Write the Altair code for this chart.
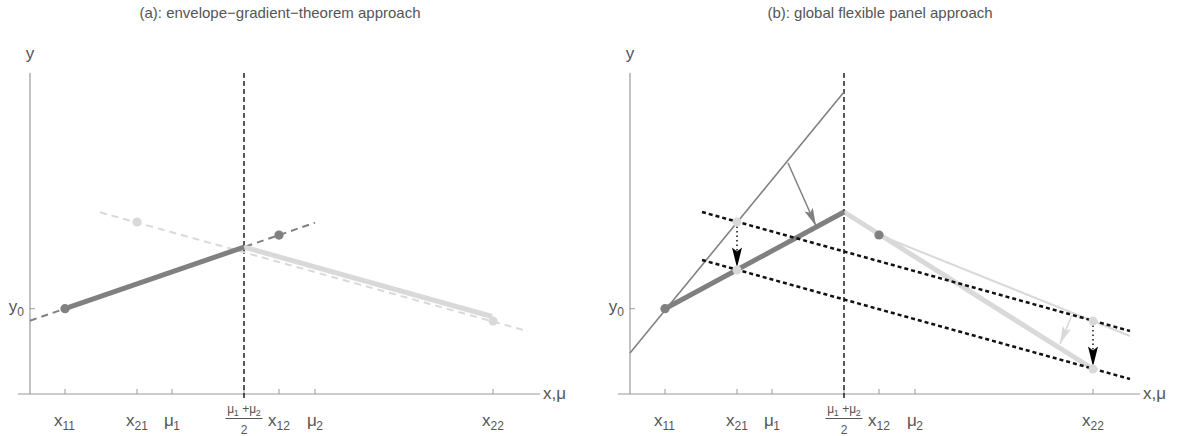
import math
import altair as alt
import pandas as pd

# ---------------- shared axis description ----------------
tick_pos = [0.35, 1.07, 1.42, 2.49, 2.85, 4.63]
tick_base = ["x", "x", "μ", "x", "μ", "x"]
tick_sub = ["11", "21", "1", "12", "2", "22"]
mid_pos = 2.14          # (mu1 + mu2) / 2
y0 = 0.853
x_axis_span = [-0.12, 5.10]
y_axis_top = 3.21

# ---------------- panel (a): envelope-gradient-theorem ----------------
a_dark_ext_x, a_dark_ext_y = [0.0, 2.85], [0.733, 1.713]
a_dark_x, a_dark_y = [0.35, 2.14], [0.853, 1.469]
a_light_ext_x, a_light_ext_y = [0.70, 4.98], [1.817, 0.627]
a_light_x, a_light_y = [2.14, 4.62], [1.469, 0.775]
a_dark_dots_x, a_dark_dots_y = [0.35, 2.49], [0.853, 1.589]
a_light_dots_x, a_light_dots_y = [1.07, 4.63], [1.72, 0.73]

# ---------------- panel (b): global flexible panel ----------------
b_gray_x, b_gray_y = [0.0, 2.14], [0.41, 3.02]
b_dark_x, b_dark_y = [0.35, 2.14], [0.853, 1.82]
b_light_x, b_light_y = [2.14, 4.63], [1.82, 0.25]
b_light_thin_x, b_light_thin_y = [2.49, 5.00], [1.59, 0.58]
b_upper_x, b_upper_y = [0.72, 5.00], [1.82, 0.63]
b_lower_x, b_lower_y = [0.72, 5.00], [1.34, 0.15]
b_dark_dots_x, b_dark_dots_y = [0.35, 2.49], [0.853, 1.59]
b_light_dots_x = [1.07, 1.07, 4.63, 4.63]
b_light_dots_y = [1.72, 1.24, 0.73, 0.25]
b_gray_arrow_x, b_gray_arrow_y = [1.58, 1.86], [2.31, 1.68]
b_light_arrow_x, b_light_arrow_y = [4.42, 4.30], [0.79, 0.50]
b_drop_from_x, b_drop_from_y = [1.07, 4.63], [1.72, 0.73]
b_drop_to_y = [1.265, 0.275]

titles = ["(a): envelope−gradient−theorem approach", "(b): global flexible panel approach"]

# ---------------- styling ----------------
DARK = "#808080"
LIGHT = "#d9d9d9"
AXIS = "#9a9a9a"
TEXT = "#555555"
FONT = "Liberation Sans"
H = 436
Y_DOM = [-0.42, 3.94]
BASE_FS, SUB_FS = 17, 12
# arrowhead drawn pointing down, tip at the symbol origin
HEAD = "M0,0 L-0.5,-2 L0,-1.6 L0.5,-2 Z"

# approximate advance widths (em) of the sans font, for laying out subscripts
ADV = {"x": 0.5, "y": 0.5, "μ": 0.54, "+": 0.584, " ": 0.278, ",": 0.278}


def text_width(s, fs):
    return sum(ADV.get(c, 0.556) for c in s) * fs


def seg(xs, ys):
    return pd.DataFrame({"x": [xs[0]], "y": [ys[0]], "x2": [xs[1]], "y2": [ys[1]]})


def pieces_rows(x, pieces, align="center", shift=0.0):
    """Lay out (text, fontsize, drop) pieces left to right around data x."""
    total = sum(text_width(t, fs) for t, fs, _ in pieces)
    start = {"center": -total / 2, "right": -total, "left": 0.0}[align] + shift
    rows = []
    for t, fs, drop in pieces:
        if t.strip():
            rows.append({"x": x, "t": t, "fs": fs, "off": start, "drop": drop})
        start += text_width(t, fs)
    return rows


def build_panel(width, x_dom, title, layers_fn):
    xs = alt.Scale(domain=x_dom, nice=False, zero=False)
    ys = alt.Scale(domain=Y_DOM, nice=False, zero=False)
    px_x = width / (x_dom[1] - x_dom[0])
    px_y = H / (Y_DOM[1] - Y_DOM[0])

    def X(f="x"):
        return alt.X(f"{f}:Q", scale=xs, axis=None)

    def Y(f="y"):
        return alt.Y(f"{f}:Q", scale=ys, axis=None)

    def rule(df, color, w, dash=None, cap="butt"):
        kw = dict(color=color, strokeWidth=w, strokeCap=cap)
        if dash:
            kw["strokeDash"] = dash
        return alt.Chart(df).mark_rule(**kw).encode(x=X(), y=Y(), x2="x2:Q", y2="y2:Q")

    def dots(xv, yv, color, size=85):
        df = pd.DataFrame({"x": xv, "y": yv})
        return alt.Chart(df).mark_circle(color=color, size=size, opacity=1).encode(x=X(), y=Y())

    def head(x_from, y_from, x_to, y_to, color, length):
        angs = []
        for xa, ya, xb, yb in zip(x_from, y_from, x_to, y_to):
            sx = (xb - xa) * px_x
            sy = -(yb - ya) * px_y
            angs.append(math.degrees(math.atan2(-sx, sy)) % 360)
        df = pd.DataFrame({"x": x_to, "y": y_to, "a": angs})
        return alt.Chart(df).mark_point(
            shape=HEAD, filled=True, color=color, opacity=1, size=length * length, strokeWidth=0
        ).encode(x=X(), y=Y(), angle=alt.Angle("a:Q", scale=None))

    def rich(rows, y_px=None, y_val=None):
        # one text mark per piece so that each gets its own offset and size
        marks = []
        for r in rows:
            df = pd.DataFrame({"x": [r["x"]], "t": [r["t"]], "y": [y_val if y_val is not None else 0.0]})
            m = alt.Chart(df).mark_text(font=FONT, color=TEXT, align="left", baseline="alphabetic",
                                        fontSize=r["fs"], dx=r["off"], dy=r["drop"])
            yenc = Y() if y_val is not None else alt.value(y_px)
            marks.append(m.encode(x=X(), y=yenc, text="t:N"))
        return marks

    # axes
    base = [
        rule(seg(x_axis_span, [0, 0]), AXIS, 1.2),
        rule(seg([0, 0], [0, y_axis_top]), AXIS, 1.2),
        rule(pd.DataFrame({"x": tick_pos + [mid_pos], "y": 0.0,
                           "x2": tick_pos + [mid_pos], "y2": 0.05}), AXIS, 1),
        rule(seg([0, 0.05], [y0, y0]), AXIS, 1),
        rule(seg([mid_pos, mid_pos], [-0.04, y_axis_top]), "#222222", 1.5, dash=[5, 3]),
    ]
    content = layers_fn(rule, dots, head)

    # tick labels with subscripts
    texts = []
    for p, b, s in zip(tick_pos, tick_base, tick_sub):
        texts += rich(pieces_rows(p, [(b, BASE_FS, 0), (s, SUB_FS, 4)]), y_px=426)

    # (mu1 + mu2) / 2 as a stacked fraction
    texts += rich(pieces_rows(mid_pos, [("μ", 12, 0), ("1", 9, 2.5), (" ", 12, 0), ("+", 12, 0),
                                        ("μ", 12, 0), ("2", 9, 2.5)]), y_px=413)
    texts += rich(pieces_rows(mid_pos, [("2", 12, 0)]), y_px=434)
    bar_half = 0.185
    frac_bar = alt.Chart(pd.DataFrame({"x": [mid_pos - bar_half], "x2": [mid_pos + bar_half]})).mark_rule(
        color=TEXT, strokeWidth=1).encode(x=X(), x2="x2:Q", y=alt.value(418.5))

    texts += rich(pieces_rows(0.0, [("y", BASE_FS, 3), ("0", SUB_FS, 7)], align="right", shift=-6),
                  y_val=y0)
    texts += rich(pieces_rows(0.0, [("y", BASE_FS, 0)]), y_px=59)
    texts += rich(pieces_rows(x_axis_span[1], [("x,μ", BASE_FS, 0)], align="left", shift=3), y_px=399)
    ttl = alt.Chart(pd.DataFrame({"t": [title]})).mark_text(
        font=FONT, fontSize=15, color=TEXT, baseline="middle").encode(
        x=alt.value(280), y=alt.value(13), text="t:N")

    return alt.layer(*base, *content, *texts, frac_bar, ttl).properties(width=width, height=H)


def panel_a(rule, dots, head):
    return [
        rule(seg(a_light_ext_x, a_light_ext_y), LIGHT, 2, dash=[7, 5]),
        rule(seg(a_dark_ext_x, a_dark_ext_y), DARK, 2, dash=[7, 5]),
        rule(seg(a_light_x, a_light_y), LIGHT, 5),
        rule(seg(a_dark_x, a_dark_y), DARK, 5),
        dots(a_light_dots_x, a_light_dots_y, LIGHT),
        dots(a_dark_dots_x, a_dark_dots_y, DARK),
    ]


def panel_b(rule, dots, head):
    return [
        rule(seg(b_gray_x, b_gray_y), DARK, 1.6),
        rule(seg(b_light_thin_x, b_light_thin_y), LIGHT, 2),
        rule(seg(b_light_x, b_light_y), LIGHT, 5),
        rule(seg(b_dark_x, b_dark_y), DARK, 5),
        rule(seg(b_upper_x, b_upper_y), "#111111", 2.5, dash=[4, 3]),
        rule(seg(b_lower_x, b_lower_y), "#111111", 2.5, dash=[4, 3]),
        rule(seg(b_gray_arrow_x, b_gray_arrow_y), DARK, 1.5),
        head([b_gray_arrow_x[0]], [b_gray_arrow_y[0]], [b_gray_arrow_x[1]], [b_gray_arrow_y[1]], DARK, 18),
        rule(seg(b_light_arrow_x, b_light_arrow_y), LIGHT, 1.5),
        head([b_light_arrow_x[0]], [b_light_arrow_y[0]], [b_light_arrow_x[1]], [b_light_arrow_y[1]], LIGHT, 18),
        rule(pd.DataFrame({"x": b_drop_from_x, "y": b_drop_from_y,
                           "x2": b_drop_from_x, "y2": b_drop_to_y}), "#111111", 1.5, dash=[1.5, 3]),
        head(b_drop_from_x, b_drop_from_y, b_drop_from_x, b_drop_to_y, "#000000", 20),
        dots(b_light_dots_x, b_light_dots_y, LIGHT, size=80),
        dots(b_dark_dots_x, b_dark_dots_y, DARK),
    ]


left = build_panel(600, [-0.30, 5.70], titles[0], panel_a)
right = build_panel(583, [-0.30, 5.53], titles[1], panel_b)

chart = alt.hconcat(left, right, spacing=0).properties(padding=0).configure_view(stroke=None)
chart.save("out.html", embed_options={"renderer": "svg", "actions": False})
